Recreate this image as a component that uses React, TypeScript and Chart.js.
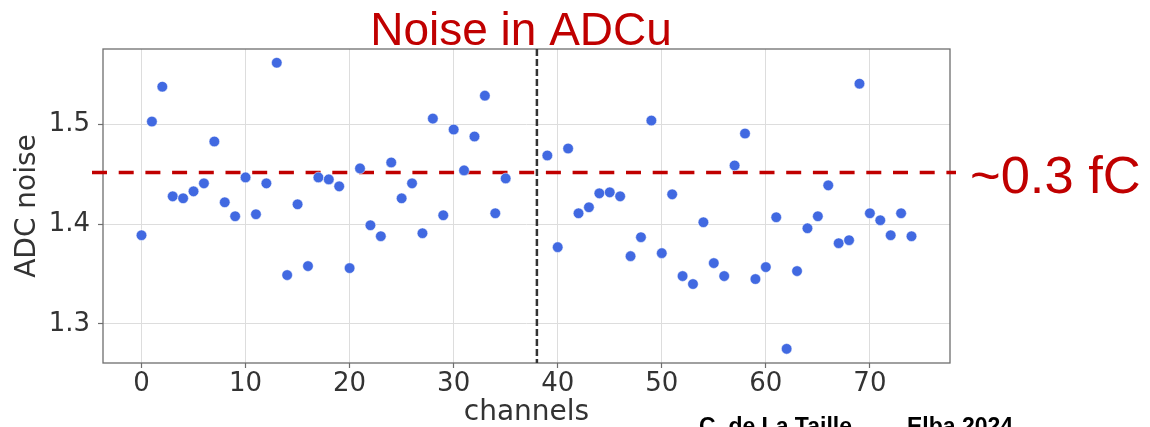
import React, { useEffect, useRef } from "react";
import { Chart, registerables } from "chart.js";

Chart.register(...registerables);

// ---- data ----
const channels = [
  0, 1, 2, 3, 4, 5, 6, 7, 8, 9, 10, 11, 12, 13, 14, 15, 16, 17, 18, 19, 20, 21, 22, 23, 24, 25, 26, 27, 28, 29, 30, 31, 32, 33, 34, 35,
  39, 40, 41, 42, 43, 44, 45, 46, 47, 48, 49, 50, 51, 52, 53, 54, 55, 56, 57, 58, 59, 60, 61, 62, 63, 64, 65, 66, 67, 68, 69, 70, 71, 72, 73, 74,
];
const adcNoise = [
  1.389, 1.503, 1.538, 1.428, 1.426, 1.433, 1.441, 1.483, 1.422, 1.408, 1.447, 1.41, 1.441, 1.562, 1.349, 1.42, 1.358, 1.447,
  1.445, 1.438, 1.356, 1.456, 1.399, 1.388, 1.462, 1.426, 1.441, 1.391, 1.506, 1.409, 1.495, 1.454, 1.488, 1.529, 1.411, 1.446,
  1.469, 1.377, 1.476, 1.411, 1.417, 1.431, 1.432, 1.428, 1.368, 1.387, 1.504, 1.371, 1.43, 1.348, 1.34, 1.402, 1.361, 1.348,
  1.459, 1.491, 1.345, 1.357, 1.407, 1.275, 1.353, 1.396, 1.408, 1.439, 1.381, 1.384, 1.541, 1.411, 1.404, 1.389, 1.411, 1.388,
];
const xTickValues = [0, 10, 20, 30, 40, 50, 60, 70];
const yTickValues = [1.3, 1.4, 1.5];
const xRange = [-3.7, 77.7];
const yRange = [1.2608, 1.5758];
const thresholdNoise = 1.452;
const separatorChannel = 38;

const titleText = "Noise in ADCu";
const thresholdText = "~0.3 fC";
const authorText = "C. de La Taille";
const eventText = "Elba 2024";
const xTitle = "channels";
const yTitle = "ADC noise";

const RED = "#C00000";
const AXIS_TEXT = "#333333";

const decorations = {
  id: "decorations",
  beforeDatasetsDraw(chart: any) {
    const { ctx, chartArea, scales } = chart;
    const { left, right, top, bottom } = chartArea;
    ctx.save();
    // frame
    ctx.strokeStyle = "#6e6e6e";
    ctx.lineWidth = 1.3;
    ctx.setLineDash([]);
    ctx.strokeRect(left, top, right - left, bottom - top);
    // vertical separator
    const xs = scales.x.getPixelForValue(separatorChannel);
    ctx.strokeStyle = "#333333";
    ctx.lineWidth = 2.5;
    ctx.setLineDash([7, 3]);
    ctx.beginPath();
    ctx.moveTo(xs, top);
    ctx.lineTo(xs, bottom);
    ctx.stroke();
    // red threshold line
    const yt = scales.y.getPixelForValue(thresholdNoise);
    ctx.strokeStyle = RED;
    ctx.lineWidth = 3.5;
    ctx.setLineDash([15, 11.7]);
    ctx.beginPath();
    ctx.moveTo(left - 11, yt);
    ctx.lineTo(right + 6, yt);
    ctx.stroke();
    ctx.restore();
  },
  afterDraw(chart: any) {
    const { ctx } = chart;
    ctx.save();
    ctx.textBaseline = "alphabetic";
    ctx.fillStyle = RED;
    ctx.font = "46px 'Liberation Sans', Arial, sans-serif";
    ctx.textAlign = "center";
    ctx.fillText(titleText, 521, 45);
    ctx.textAlign = "left";
    ctx.font = "52.5px 'Liberation Sans', Arial, sans-serif";
    ctx.fillText(thresholdText, 970, 193);
    ctx.fillStyle = "#000000";
    ctx.font = "bold 23px 'Liberation Sans', Arial, sans-serif";
    ctx.fillText(authorText, 699, 433.5);
    ctx.fillText(eventText, 907, 433.5);
    ctx.restore();
  },
};

export default function App() {
  const canvasRef = useRef<HTMLCanvasElement | null>(null);

  useEffect(() => {
    if (!canvasRef.current) return;
    const points = channels.map((c, i) => ({ x: c, y: adcNoise[i] }));
    const chart = new Chart(canvasRef.current, {
      type: "scatter",
      data: {
        datasets: [
          {
            label: "ADC noise",
            data: points,
            backgroundColor: "#4169E1",
            borderColor: "#ffffff",
            borderWidth: 0.5,
            pointRadius: 5.3,
            pointHoverRadius: 5.3,
          },
        ],
      },
      options: {
        responsive: false,
        animation: false,
        devicePixelRatio: 1,
        layout: { padding: { left: 0, top: 49, right: 200, bottom: 0 } },
        plugins: { legend: { display: false }, tooltip: { enabled: false }, title: { display: false } },
        scales: {
          x: {
            type: "linear",
            min: xRange[0],
            max: xRange[1],
            afterBuildTicks: (s: any) => {
              s.ticks = xTickValues.map((v) => ({ value: v }));
            },
            afterFit: (s: any) => {
              s.height = 64;
            },
            ticks: {
              font: { family: "'DejaVu Sans', sans-serif", size: 26 },
              color: AXIS_TEXT,
              padding: 1,
              maxRotation: 0,
              autoSkip: false,
              callback: (v: any) => String(v),
            },
            grid: { color: "#dddddd", lineWidth: 1, tickLength: 5, tickColor: "#6e6e6e", tickWidth: 1.2 },
            border: { display: false },
            title: {
              display: true,
              text: xTitle,
              color: AXIS_TEXT,
              font: { family: "'DejaVu Sans', sans-serif", size: 28, lineHeight: 1 },
              padding: { top: 0, bottom: 0 },
            },
          },
          y: {
            type: "linear",
            min: yRange[0],
            max: yRange[1],
            afterBuildTicks: (s: any) => {
              s.ticks = yTickValues.map((v) => ({ value: v }));
            },
            afterFit: (s: any) => {
              s.width = 103;
            },
            ticks: {
              font: { family: "'DejaVu Sans', sans-serif", size: 26 },
              color: AXIS_TEXT,
              padding: 8,
              autoSkip: false,
              callback: (v: any) => Number(v).toFixed(1),
            },
            grid: { color: "#dddddd", lineWidth: 1, tickLength: 5, tickColor: "#6e6e6e", tickWidth: 1.2 },
            border: { display: false },
            title: {
              display: true,
              text: yTitle,
              color: AXIS_TEXT,
              font: { family: "'DejaVu Sans', sans-serif", size: 28, lineHeight: 1.2 },
              padding: { top: 11, bottom: 0 },
            },
          },
        },
      },
      plugins: [decorations],
    });
    return () => chart.destroy();
  }, []);

  return (
    <div style={{ position: "fixed", left: 0, top: 0, width: 1150, height: 427, background: "#ffffff", overflow: "hidden" }}>
      <canvas ref={canvasRef} width={1150} height={427} style={{ width: 1150, height: 427, display: "block" }} />
    </div>
  );
}
